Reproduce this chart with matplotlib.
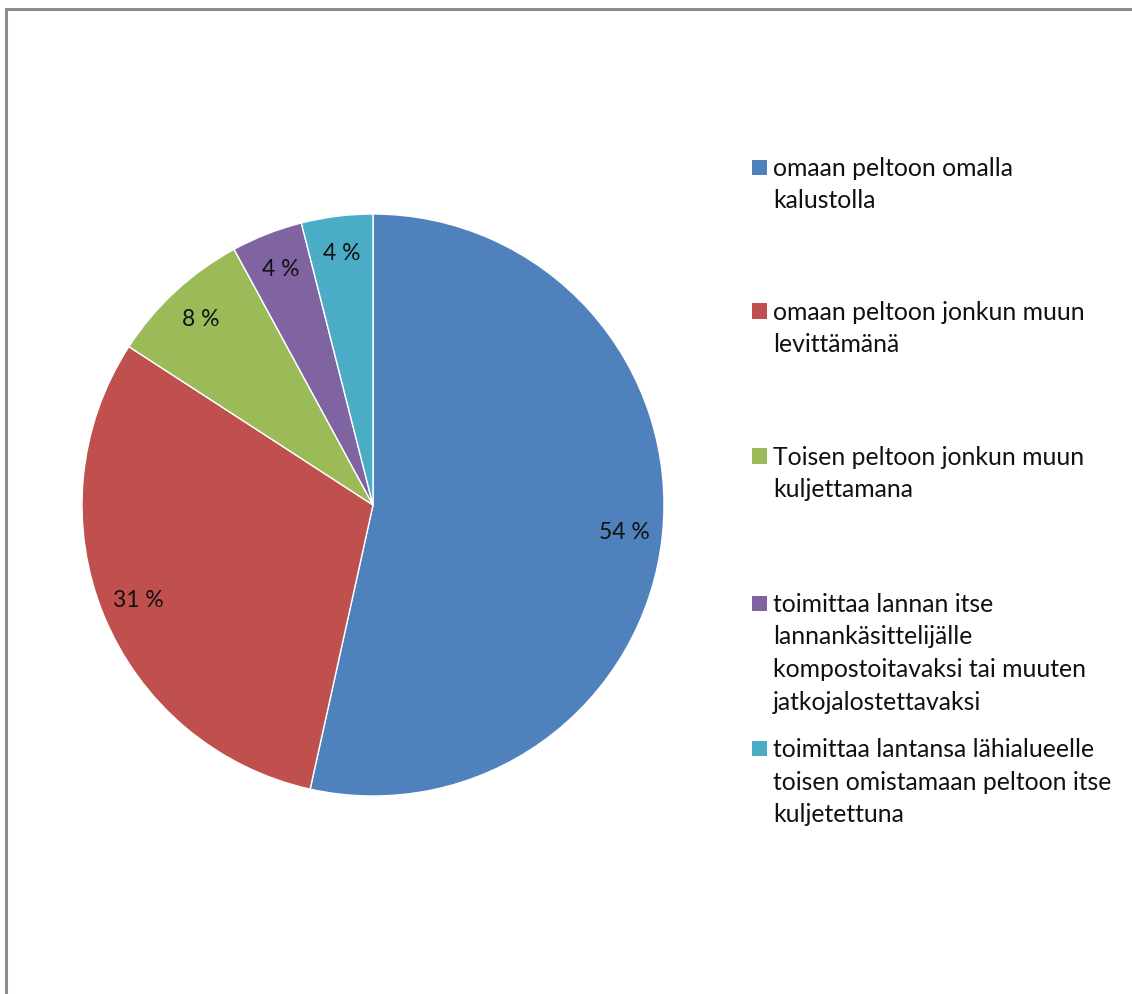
import matplotlib
matplotlib.use("Agg")
import matplotlib.pyplot as plt
from matplotlib.patches import Rectangle
from matplotlib.lines import Line2D

# shares of farms by how manure is handled
categories = [
    "omaan peltoon omalla\nkalustolla",
    "omaan peltoon jonkun muun\nlevittämänä",
    "Toisen peltoon jonkun muun\nkuljettamana",
    "toimittaa lannan itse\nlannankäsittelijälle\nkompostoitavaksi tai muuten\njatkojalostettavaksi",
    "toimittaa lantansa lähialueelle\ntoisen omistamaan peltoon itse\nkuljetettuna",
]
shares = [54, 31, 8, 4, 4]
colors = ["#4F81BD", "#C0504D", "#9BBB59", "#8064A2", "#4BACC6"]

W, H = 1132, 994
plt.rcParams['font.family'] = ['Lato', 'DejaVu Sans']
fig = plt.figure(figsize=(W / 100, H / 100), dpi=100)
fig.patch.set_facecolor("white")

# pie placed by pixel centre and radius
cx, cy, r = 373, 505, 291
ax = fig.add_axes([(cx - r) / W, 1 - (cy + r) / H, 2 * r / W, 2 * r / H])
ax.pie(shares, colors=colors, startangle=90, counterclock=False,
       autopct=lambda p: "{:.0f} %".format(p * sum(shares) / 100),
       pctdistance=0.87, radius=1,
       wedgeprops={'edgecolor': 'white', 'linewidth': 1},
       textprops={'fontsize': 16.5, 'color': '#111111'})
ax.set_xlim(-1, 1)
ax.set_ylim(-1, 1)
ax.set_aspect('equal')
ax.axis('off')

# legend entries drawn by hand so each block keeps its own spacing
legend_y = [167, 311, 456, 603, 748]
for label, col, y in zip(categories, colors, legend_y):
    fig.patches.append(Rectangle((752 / W, 1 - (y + 7.5) / H), 15 / W, 15 / H,
                                 transform=fig.transFigure, facecolor=col,
                                 edgecolor='none'))
    fig.text(773 / W, 1 - (y - 10) / H, label, fontsize=17.8, color='#111111',
             va='top', ha='left', linespacing=1.5)

# outer chart frame (top and left edges)
fig.lines.append(Line2D([6 / W, 1], [1 - 9 / H, 1 - 9 / H], transform=fig.transFigure,
                        color='#8c8c8c', linewidth=2.2))
fig.lines.append(Line2D([6 / W, 6 / W], [0, 1 - 9 / H], transform=fig.transFigure,
                        color='#8c8c8c', linewidth=2.2))

fig.savefig("out.png", dpi=100, facecolor="white")
